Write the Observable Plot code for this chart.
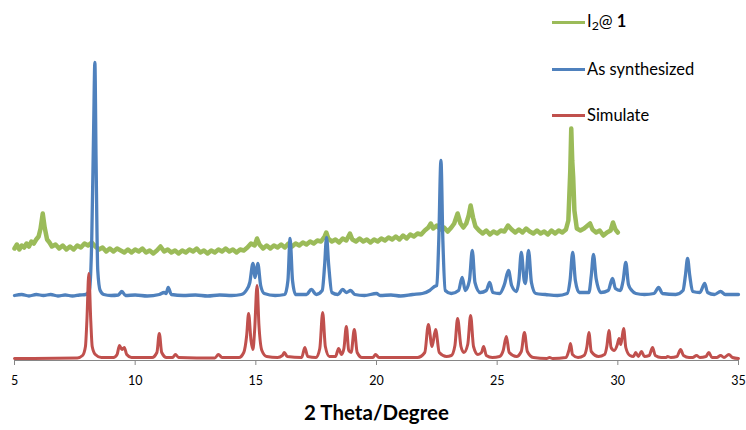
<!DOCTYPE html>
<html><head><meta charset="utf-8">
<script src="https://cdn.jsdelivr.net/npm/d3@7"></script>
<script src="https://cdn.jsdelivr.net/npm/@observablehq/plot@0.6"></script>
<style>
body{margin:0;background:#fff;}
#wrap{position:relative;width:746px;height:430px;font-family:Lato,sans-serif;}
.leg{position:absolute;left:552px;height:24px;display:flex;align-items:center;font-size:16.5px;color:#000;white-space:nowrap;}
.leg .sw{width:33px;height:3px;margin-right:2px;}
svg [aria-label="x-axis label"] text{font-size:20.5px;font-weight:bold;}
</style></head>
<body>
<div id="wrap"></div>
<script>
// Series names, colours and legend label HTML
const seriesNames = ["I2@1", "As synthesized", "Simulate"];
const seriesColors = ["#9BBB59", "#4F81BD", "#C0504D"];
const legendHtml = ["I<sub style=\"font-size:0.75em;vertical-align:-0.25em\">2</sub>@ <b>1</b>", "As synthesized", "Simulate"];
const xTicks = [5, 10, 15, 20, 25, 30, 35];
const xLabel = "2 Theta/Degree";

// I2@1 (offset pattern)
const iodine = [[5.0,112],[5.1,116],[5.2,111],[5.3,115],[5.4,113],[5.5,117],[5.6,114],[5.7,119],[5.8,117],[5.9,121],[6.0,124],[6.08,132],[6.17,147],[6.25,133],[6.35,121],[6.45,118],[6.55,114],[6.7,116],[6.85,112],[7.0,115],[7.15,111],[7.3,114],[7.45,111],[7.6,115],[7.75,113],[7.9,117],[8.05,115],[8.2,118],[8.35,114],[8.5,111],[8.65,113],[8.8,109],[8.95,112],[9.1,109],[9.25,112],[9.4,110],[9.55,108],[9.7,111],[9.85,108],[10.0,111],[10.15,109],[10.3,112],[10.45,108],[10.6,110],[10.75,107],[10.9,110],[11.05,114],[11.2,109],[11.35,111],[11.5,108],[11.65,110],[11.8,107],[11.95,110],[12.1,108],[12.25,111],[12.4,109],[12.55,112],[12.7,108],[12.85,110],[13.0,107],[13.15,110],[13.3,108],[13.45,111],[13.6,109],[13.75,112],[13.9,109],[14.05,111],[14.2,108],[14.35,111],[14.5,110],[14.65,113],[14.8,117],[14.95,115],[15.05,122],[15.15,116],[15.3,112],[15.45,115],[15.6,112],[15.75,115],[15.9,113],[16.05,116],[16.2,113],[16.35,117],[16.5,114],[16.65,117],[16.8,115],[16.95,118],[17.1,116],[17.25,119],[17.4,117],[17.55,120],[17.7,119],[17.85,124],[17.92,128],[18.0,122],[18.15,119],[18.3,121],[18.45,118],[18.6,122],[18.75,120],[18.9,127],[19.0,121],[19.15,119],[19.3,122],[19.45,119],[19.6,121],[19.75,118],[19.9,121],[20.05,119],[20.2,122],[20.35,120],[20.5,123],[20.65,121],[20.8,124],[20.95,121],[21.1,125],[21.25,122],[21.4,126],[21.55,124],[21.7,127],[21.85,126],[22.0,130],[22.15,133],[22.25,137],[22.35,132],[22.5,135],[22.65,131],[22.8,133],[22.95,129],[23.1,133],[23.22,137],[23.36,147],[23.48,137],[23.6,133],[23.72,137],[23.82,145],[23.9,155],[24.0,143],[24.1,134],[24.25,130],[24.4,127],[24.55,130],[24.7,126],[24.85,129],[25.0,127],[25.15,130],[25.3,129],[25.45,135],[25.6,131],[25.75,128],[25.9,131],[26.05,128],[26.2,132],[26.35,129],[26.5,127],[26.65,130],[26.8,127],[26.95,129],[27.1,126],[27.25,130],[27.4,127],[27.55,130],[27.7,128],[27.85,131],[27.95,140],[28.03,190],[28.07,232],[28.11,200],[28.15,183],[28.2,150],[28.3,132],[28.45,130],[28.6,132],[28.75,135],[28.85,137],[28.95,131],[29.1,128],[29.25,130],[29.4,125],[29.55,128],[29.7,130],[29.8,138],[29.9,131],[30.0,128]];

// As synthesized
const synthesized = [[5,65],[5.3,66],[5.6,64.5],[5.9,66],[6.2,65],[6.5,66],[6.8,64.5],[7.1,65.5],[7.4,64.5],[7.7,65.5],[7.95,66],[8.1,70],[8.2,120],[8.28,233],[8.33,298],[8.38,200],[8.45,90],[8.55,70],[8.7,66],[9.0,65],[9.3,65.5],[9.45,69],[9.6,65],[10.0,65.5],[10.5,64.5],[11.0,66],[11.2,68],[11.28,67],[11.37,73],[11.5,66],[12.0,65],[12.5,65.5],[13,64.5],[13.5,65.5],[14,65],[14.4,66],[14.6,70],[14.75,78],[14.88,97],[14.97,83],[15.08,97],[15.2,75],[15.35,67],[15.8,65],[16.2,66],[16.33,80],[16.42,122],[16.52,80],[16.65,66],[17.1,66],[17.3,71],[17.5,66],[17.75,70],[17.85,95],[17.93,123],[18.02,95],[18.15,68],[18.4,66],[18.6,71],[18.75,68],[18.93,70],[19.1,66],[19.5,65],[20.0,67],[20.15,65],[20.6,65.5],[21.0,64.5],[21.5,66],[21.9,67],[22.2,70],[22.4,74],[22.5,75],[22.58,120],[22.67,200],[22.75,120],[22.85,70],[23.1,67],[23.4,70],[23.55,83],[23.68,70],[23.85,80],[23.97,110],[24.08,78],[24.3,68],[24.55,70],[24.69,78],[24.82,68],[25.1,67],[25.3,76],[25.47,90],[25.6,75],[25.8,69],[25.9,80],[26.0,108],[26.12,80],[26.17,77],[26.3,110],[26.42,78],[26.6,67],[27,66],[27.5,65],[27.9,67],[28.02,80],[28.13,108],[28.24,80],[28.4,68],[28.8,68],[28.9,85],[28.99,106],[29.1,82],[29.3,68],[29.6,70],[29.78,82],[29.9,72],[30.1,70],[30.22,80],[30.33,98],[30.44,76],[30.58,70],[30.75,67],[31.1,66],[31.5,67],[31.69,73],[31.85,67],[32.4,66],[32.7,70],[32.8,85],[32.89,102],[32.98,85],[33.1,69],[33.4,68],[33.6,77],[33.72,68],[34.0,66],[34.26,69],[34.45,66],[34.7,66],[35,66]];

// Simulate
const simulate = [[5,2],[7.6,2.5],[7.82,5],[7.94,14],[8.0,40],[8.08,87],[8.16,40],[8.22,14],[8.35,6],[8.6,3],[9.1,3],[9.25,6],[9.35,15],[9.45,11],[9.55,13],[9.65,6],[9.85,3],[10.7,3],[10.9,8],[11.0,27],[11.1,8],[11.3,3],[11.55,3],[11.67,6],[11.8,3],[13.3,2.5],[13.45,6],[13.6,3],[14.3,3],[14.5,8],[14.62,25],[14.7,47],[14.8,20],[14.88,11],[14.95,30],[15.05,75],[15.13,35],[15.25,10],[15.45,4],[15.9,3],[16.1,5],[16.18,8],[16.3,4],[16.9,3],[17.03,13],[17.15,4],[17.5,3],[17.65,12],[17.77,48],[17.88,14],[18.05,4],[18.3,4],[18.43,12],[18.55,6],[18.65,12],[18.75,34],[18.85,10],[18.95,8],[19.08,31],[19.2,8],[19.4,3],[19.85,3],[19.96,6],[20.1,3],[21.7,3],[22.0,8],[22.15,36],[22.3,14],[22.45,31],[22.6,8],[22.9,4],[23.1,5],[23.25,15],[23.36,42],[23.5,14],[23.62,8],[23.78,16],[23.9,45],[24.02,14],[24.2,6],[24.35,8],[24.44,14],[24.55,5],[24.8,3],[25.1,4],[25.25,10],[25.38,24],[25.5,8],[25.8,4],[26.0,9],[26.13,28],[26.25,9],[26.5,3],[27.05,2],[27.17,3],[27.3,2],[27.85,3],[27.97,10],[28.04,17],[28.12,6],[28.35,3],[28.6,5],[28.72,14],[28.8,28],[28.9,9],[29.2,4],[29.45,6],[29.55,15],[29.63,30],[29.72,13],[29.85,10],[29.98,16],[30.05,22],[30.12,16],[30.17,22],[30.24,32],[30.33,13],[30.5,5],[30.65,4],[30.74,8],[30.85,4],[30.98,9],[31.1,4],[31.3,5],[31.44,13],[31.55,5],[31.8,3],[32.0,3],[32.06,4],[32.2,3],[32.45,4],[32.6,11],[32.72,5],[32.95,3],[33.1,3],[33.26,5],[33.4,3],[33.65,4],[33.77,8],[33.9,3],[34.1,3],[34.26,5],[34.4,3],[34.6,6],[34.75,3],[35,2]];

const allSeries = [iodine, synthesized, simulate];
const widths = [4.5, 3.3, 3];
const curves = ["linear", "monotone-x", "monotone-x"];

const rows = allSeries.flatMap((s, i) => s.map(([x, y]) => ({series: seriesNames[i], x, y})));

const chart = Plot.plot({
  width: 746,
  height: 430,
  marginLeft: 14,
  marginRight: 8,
  marginTop: 0,
  marginBottom: 70,
  style: {fontFamily: "Lato, sans-serif", background: "#fff", color: "#000"},
  x: {domain: [5, 35]},
  y: {domain: [0, 360], axis: null},
  color: {domain: seriesNames, range: seriesColors},
  marks: [
    Plot.frame({anchor: "bottom", stroke: "#868686"}),
    Plot.axisX({ticks: xTicks, tickFormat: d => String(d), tickSize: 5, tickPadding: 11, stroke: "#868686", fontSize: 12.5, fill: "#000",
      label: xLabel, labelAnchor: "center", labelOffset: 59, labelArrow: "none"}),
    ...seriesNames.map((name, i) => Plot.line(rows.filter(d => d.series === name), {
      x: "x", y: "y", stroke: "series", strokeWidth: widths[i], curve: curves[i], strokeLinejoin: "round", strokeLinecap: "round"
    }))
  ]
});
const wrap = document.getElementById("wrap");
wrap.appendChild(chart);
const legendTops = [10, 57, 103];
seriesNames.forEach((name, i) => {
  const row = document.createElement("div");
  row.className = "leg";
  row.style.top = legendTops[i] + "px";
  row.innerHTML = `<span class="sw" style="background:${seriesColors[i]}"></span><span>${legendHtml[i]}</span>`;
  wrap.appendChild(row);
});
</script>
</body></html>
